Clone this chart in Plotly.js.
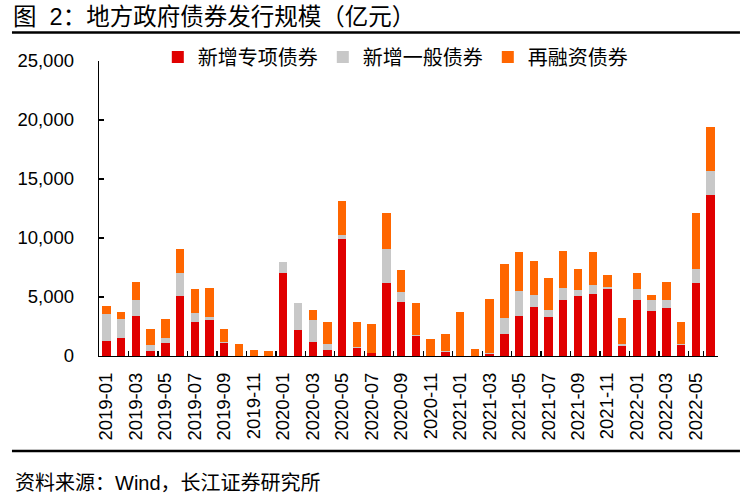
<!DOCTYPE html>
<html>
<head>
<meta charset="utf-8">
<script src="https://cdn.plot.ly/plotly-3.0.1.min.js"></script>
<style>
html,body{margin:0;padding:0;background:#fff;}
#chart{width:748px;height:500px;}
</style>
</head>
<body>
<div id="chart"></div>
<script>
const months = [
 "2019-01","2019-02","2019-03","2019-04","2019-05","2019-06","2019-07","2019-08","2019-09","2019-10","2019-11","2019-12",
 "2020-01","2020-02","2020-03","2020-04","2020-05","2020-06","2020-07","2020-08","2020-09","2020-10","2020-11","2020-12",
 "2021-01","2021-02","2021-03","2021-04","2021-05","2021-06","2021-07","2021-08","2021-09","2021-10","2021-11","2021-12",
 "2022-01","2022-02","2022-03","2022-04","2022-05","2022-06"
];
// 新增专项债券
const specialNew = [
 1270,1500,3420,450,1130,5110,2850,3050,1070,0,0,0,
 7010,2200,1190,510,9890,650,230,6160,4550,1690,0,370,
 0,0,140,1860,3390,4180,3280,4750,5110,5280,5680,870,
 4720,3790,4100,900,6190,13620
];
// 新增一般债券
const generalNew = [
 2260,1610,1300,480,370,1900,770,230,140,0,0,0,
 930,2260,1830,510,360,90,50,2910,850,90,0,30,
 0,0,90,1390,2140,990,590,1010,460,710,170,120,
 960,980,670,120,1180,2030
];
// 再融资债券
const refinancing = [
 710,620,1580,1390,1610,2030,2030,2460,1050,1020,510,420,
 0,0,880,1860,2860,2140,2460,3020,1890,2680,1410,1460,
 3700,590,4570,4570,3280,2850,2740,3140,1830,2820,1010,2230,
 1350,370,1470,1860,4780,3780
];
const seriesNames = ["新增专项债券","新增一般债券","再融资债券"];
const tickMonths = months.filter((m,i)=>i%2===0);

const FONT = "'Liberation Sans', Arial, 'Noto Sans CJK SC', sans-serif";
const colors = ["#E00000","#C8C8C8","#FF6600"];
const ys = [specialNew, generalNew, refinancing];

const data = ys.map((y,k)=>({
  type:"bar", x:months, y:y, name:seriesNames[k],
  marker:{color:colors[k], line:{width:0}},
  hoverinfo:"x+y+name"
}));

const layout = {
  width:748, height:500,
  margin:{l:99, r:30, t:61, b:144},
  paper_bgcolor:"#fff", plot_bgcolor:"#fff",
  barmode:"stack", bargap:0.43,
  font:{family:FONT, color:"#000", size:18.5},
  title:{text:"图\u00a0\u00a02：地方政府债券发行规模（亿元）", x:13/748, xref:"container", xanchor:"left",
         y:1-17/500, yref:"container", yanchor:"middle",
         font:{family:FONT, size:23.5, color:"#000"}},
  showlegend:true,
  legend:{orientation:"h", x:0.095, xanchor:"left", y:(356-57)/295, yanchor:"middle",
          traceorder:"normal", font:{family:FONT, size:20, color:"#000"},
          bgcolor:"rgba(0,0,0,0)", itemwidth:30},
  xaxis:{type:"category", categoryorder:"array", categoryarray:months,
         tickmode:"array", tickvals:tickMonths, ticktext:tickMonths,
         tickson:"boundaries", ticks:"inside", ticklen:5, tickcolor:"#000", tickwidth:1.3,
         tickangle:-90, showline:true, linecolor:"#000", linewidth:1.3,
         showgrid:false, zeroline:false, ticklabelstandoff:8,
         tickfont:{family:FONT, size:18.5, color:"#000"}, range:[-0.5,41.5]},
  yaxis:{range:[0,25000], dtick:5000, tick0:0, tickformat:",d",
         ticks:"inside", ticklen:5, tickcolor:"#000", tickwidth:1.3,
         showline:true, linecolor:"#000", linewidth:1.3, showgrid:false, zeroline:false,
         ticklabelstandoff:20, tickfont:{family:FONT, size:18.5, color:"#000"}},
  shapes:[
    {type:"line", xref:"paper", yref:"paper", x0:-0.1406, x1:1.0355, y0:1.0966, y1:1.0966,
     line:{color:"#000", width:2.5}},
    {type:"line", xref:"paper", yref:"paper", x0:-0.1406, x1:1.0355, y0:-0.322, y1:-0.322,
     line:{color:"#000", width:2.5}}
  ],
  annotations:[
    {text:"资料来源：Wind，长江证券研究所", xref:"paper", yref:"paper",
     x:(13-99)/619, y:(356-483)/295, xanchor:"left", yanchor:"middle", showarrow:false,
     font:{family:FONT, size:20, color:"#000"}}
  ]
};

Plotly.newPlot("chart", data, layout, {staticPlot:true, displayModeBar:false});
</script>
</body>
</html>
